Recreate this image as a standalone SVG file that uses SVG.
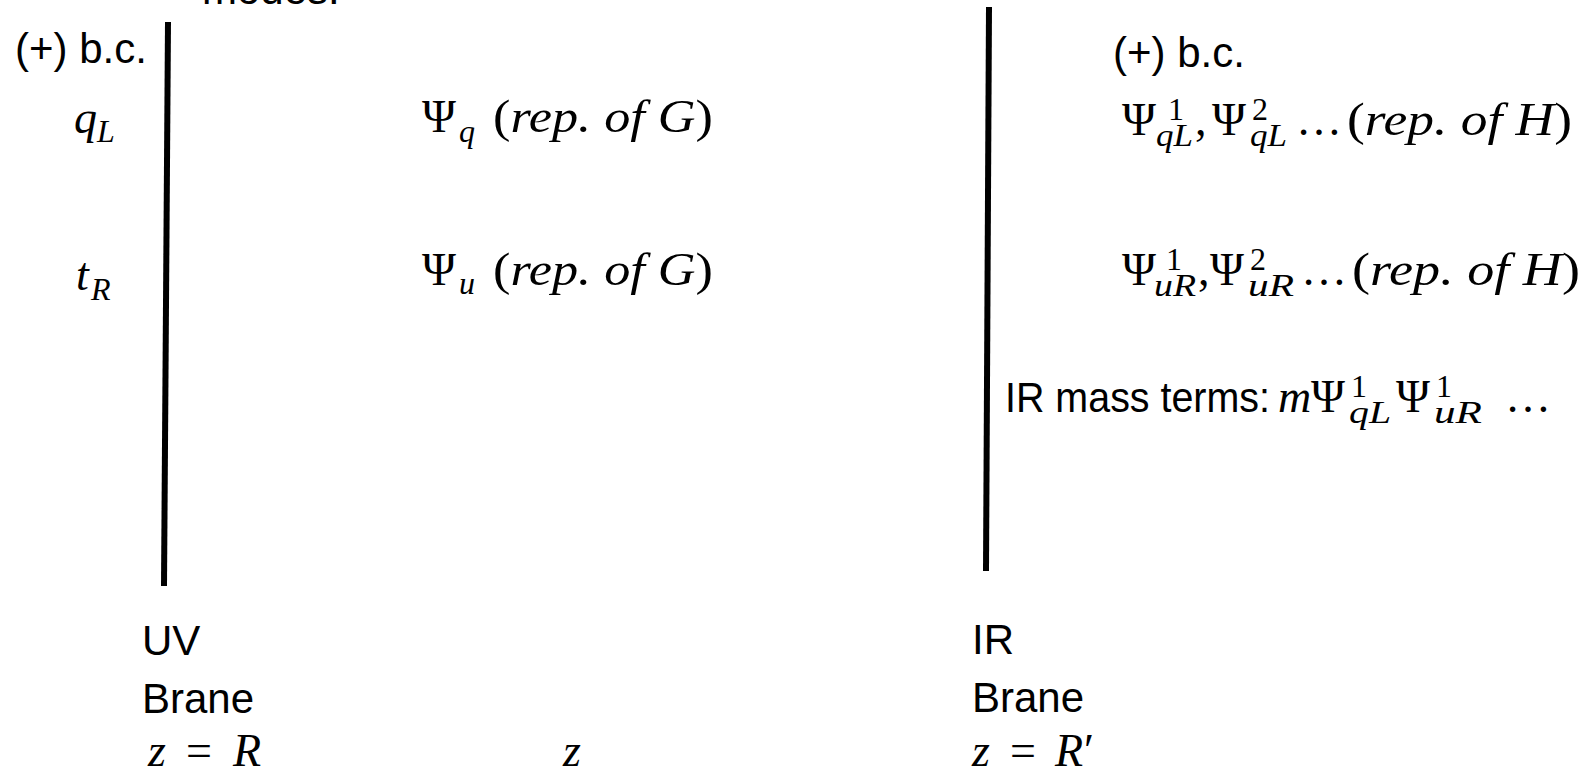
<svg xmlns="http://www.w3.org/2000/svg" width="1590" height="772" viewBox="0 0 1590 772">
<style>
.t{font-family:"Liberation Sans",Arial,sans-serif;font-size:42px;fill:#000}
.m{font-family:"Liberation Serif","Times New Roman",serif;font-style:italic;font-size:46px;fill:#000}
.u{font-family:"Liberation Serif","Times New Roman",serif;font-style:normal;font-size:46px;fill:#000}
.i{font-style:italic}
.n{font-style:normal}
.s{font-size:32px}
.brane{stroke:#000;stroke-width:6;fill:none}
</style>
<rect x="0" y="0" width="1590" height="772" fill="#fff"/>
<text class="t" x="202" y="4" font-size="60">modes:</text>
<g id="branes">
<line class="brane" x1="168" y1="22" x2="164" y2="586"/>
<line class="brane" x1="989" y1="7" x2="986" y2="571"/>
</g>
<g id="uv-labels">
<text class="t" x="15" y="63">(+) b.c.</text>
<text class="m" x="74" y="133">q<tspan class="s" x="97" y="142">L</tspan></text>
<text class="m" x="76" y="290">t<tspan class="s" x="91" y="300">R</tspan></text>
</g>
<g id="bulk">
<text class="u" x="422" y="132">Ψ<tspan class="i s" x="459" y="142">q</tspan></text>
<text class="m" x="493" y="132" textLength="220" lengthAdjust="spacingAndGlyphs"><tspan class="n">(</tspan>rep. of G<tspan class="n">)</tspan></text>
<text class="u" x="422" y="285">Ψ<tspan class="i s" x="459" y="294">u</tspan></text>
<text class="m" x="493" y="285" textLength="220" lengthAdjust="spacingAndGlyphs"><tspan class="n">(</tspan>rep. of G<tspan class="n">)</tspan></text>
</g>
<g id="ir-labels">
<text class="t" x="1113" y="67">(+) b.c.</text>
<text class="u" x="1122" y="135">Ψ<tspan class="s" x="1168" y="120">1</tspan><tspan class="i s" x="1156" y="146" textLength="37" lengthAdjust="spacingAndGlyphs">qL</tspan><tspan x="1195" y="135">,</tspan></text>
<text class="u" x="1212" y="135">Ψ<tspan class="s" x="1252" y="120">2</tspan><tspan class="i s" x="1250" y="146" textLength="37" lengthAdjust="spacingAndGlyphs">qL</tspan></text>
<text class="u" x="1296" y="135" font-size="40">…</text>
<text class="m" x="1347" y="135" textLength="225" lengthAdjust="spacingAndGlyphs"><tspan class="n">(</tspan>rep. of H<tspan class="n">)</tspan></text>
<text class="u" x="1122" y="285">Ψ<tspan class="s" x="1166" y="270">1</tspan><tspan class="i s" x="1154" y="296" textLength="42" lengthAdjust="spacingAndGlyphs">uR</tspan><tspan x="1198" y="285">,</tspan></text>
<text class="u" x="1210" y="285">Ψ<tspan class="s" x="1250" y="270">2</tspan><tspan class="i s" x="1248" y="296" textLength="46" lengthAdjust="spacingAndGlyphs">uR</tspan></text>
<text class="u" x="1301" y="285" font-size="40">…</text>
<text class="m" x="1352" y="285" textLength="228" lengthAdjust="spacingAndGlyphs"><tspan class="n">(</tspan>rep. of H<tspan class="n">)</tspan></text>
</g>
<g id="mass-terms">
<text class="t" x="1005" y="412" textLength="265" lengthAdjust="spacingAndGlyphs">IR mass terms:</text>
<text class="m" x="1278" y="412">m</text>
<text class="u" x="1311" y="412">Ψ<tspan class="s" x="1351" y="397">1</tspan><tspan class="i s" x="1349" y="423" textLength="42" lengthAdjust="spacingAndGlyphs">qL</tspan></text>
<text class="u" x="1396" y="412">Ψ<tspan class="s" x="1436" y="397">1</tspan><tspan class="i s" x="1434" y="423" textLength="48" lengthAdjust="spacingAndGlyphs">uR</tspan></text>
<text class="u" x="1505" y="412" font-size="40">…</text>
</g>
<g id="uv-brane">
<text class="t" x="142" y="655">UV</text>
<text class="t" x="142" y="713">Brane</text>
<text class="m" x="148" y="766">z <tspan class="n" x="186">=</tspan><tspan x="233">R</tspan></text>
</g>
<g id="z-axis">
<text class="m" x="563" y="766">z</text>
</g>
<g id="ir-brane">
<text class="t" x="972" y="654">IR</text>
<text class="t" x="972" y="712">Brane</text>
<text class="m" x="972" y="766">z<tspan class="n" x="1010">=</tspan><tspan x="1055">R</tspan><tspan class="n" x="1084">′</tspan></text>
</g>
</svg>
